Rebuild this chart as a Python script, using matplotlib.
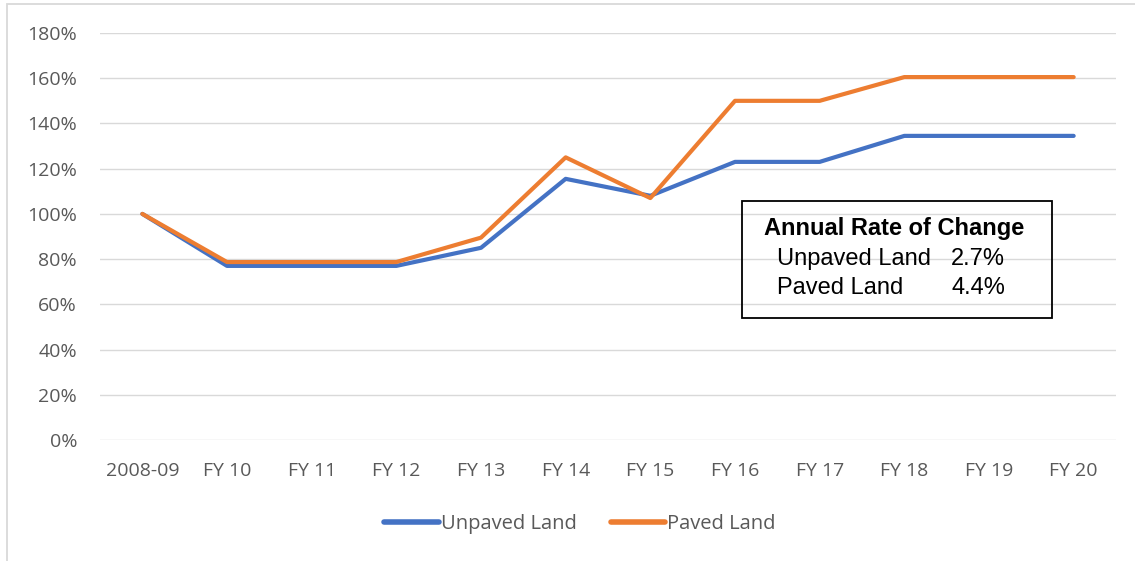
import matplotlib.pyplot as plt
from matplotlib.patches import Rectangle
from matplotlib.ticker import FuncFormatter

# dados (% em relação a 2008-09)
anos = ["2008-09", "FY 10", "FY 11", "FY 12", "FY 13", "FY 14",
        "FY 15", "FY 16", "FY 17", "FY 18", "FY 19", "FY 20"]
unpaved = [100, 77, 77, 77, 85, 115.5, 108, 123, 123, 134.5, 134.5, 134.5]
paved = [100, 78.7, 78.7, 78.7, 89.5, 125, 107, 150, 150, 160.5, 160.5, 160.5]
taxa_unpaved = "2.7%"
taxa_paved = "4.4%"

plt.rcParams["font.family"] = ["Open Sans", "DejaVu Sans"]

W, H = 1135, 561


def fx(px):
    return px / W


def fy(py):
    return 1 - py / H


fig = plt.figure(figsize=(W / 100, H / 100), dpi=100)
ax = fig.add_axes([fx(100), fy(440), 1016 / W, 407 / H])

x = range(len(anos))
ax.plot(x, unpaved, color="#4472C4", lw=3, label="Unpaved Land", solid_capstyle="round")
ax.plot(x, paved, color="#ED7D31", lw=3, label="Paved Land", solid_capstyle="round")

ax.set_xlim(-0.5, len(anos) - 0.5)
ax.set_ylim(0, 180)
ax.set_yticks(range(0, 181, 20))
ax.yaxis.set_major_formatter(FuncFormatter(lambda v, p: f"{v:.0f}%"))
ax.set_xticks(list(x))
ax.set_xticklabels(anos)
ax.tick_params(length=0, labelsize=14, colors="#595959")
ax.tick_params(axis="x", pad=16)
ax.tick_params(axis="y", pad=16.5)
ax.grid(axis="y", color="#D9D9D9", lw=1)
ax.set_axisbelow(True)
for s in ax.spines.values():
    s.set_visible(False)

# caixa com a taxa anual
caixa = dict(fontsize=17, family="Liberation Sans", color="black", va="baseline")
fig.text(fx(894), fy(235), "Annual Rate of Change", ha="center", fontweight="bold", **caixa)
fig.text(fx(777), fy(265), "Unpaved Land", ha="left", **caixa)
fig.text(fx(777), fy(294), "Paved Land", ha="left", **caixa)
fig.text(fx(951), fy(265), taxa_unpaved, ha="left", **caixa)
fig.text(fx(951), fy(294), taxa_paved, ha="left", **caixa)
fig.patches.append(Rectangle((fx(742), fy(318)), 310 / W, 117 / H,
                             transform=fig.transFigure, fill=False,
                             edgecolor="black", lw=1.3))

# borda do gráfico
fig.patches.append(Rectangle((fx(7), -0.1), 1.2, fy(4) + 0.1,
                             transform=fig.transFigure, fill=False,
                             edgecolor="#D9D9D9", lw=1.3))

leg = fig.legend(loc="center", bbox_to_anchor=(fx(580), fy(524)), ncol=2,
                 frameon=False, fontsize=14.5, handlelength=2.7,
                 handletextpad=0.1, columnspacing=1.7)
for t in leg.get_texts():
    t.set_color("#595959")
for h in leg.legend_handles:
    h.set_linewidth(4)

fig.savefig("out.png", dpi=100)
